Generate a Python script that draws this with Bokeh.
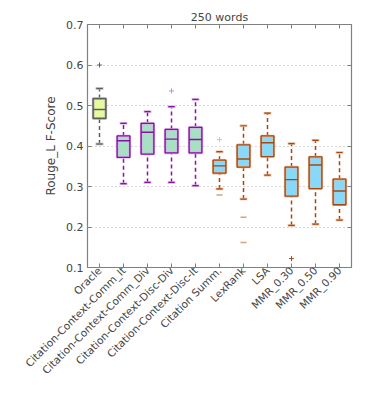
import math
from bokeh.plotting import figure
from bokeh.models import FactorRange, Range1d, LinearAxis, CategoricalAxis, FixedTicker, ColumnDataSource
from bokeh.transform import dodge
from bokeh.embed import file_html
from bokeh.resources import INLINE

cats = ["Oracle", "Citation-Context-Comm_It", "Citation-Context-Comm_Div",
        "Citation-Context-Disc-Div", "Citation-Context-Disc-It", "Citation Summ.",
        "LexRank", "LSA", "MMR_0.30", "MMR_0.50", "MMR_0.90"]
whisker_lo = [0.405, 0.307, 0.310, 0.310, 0.302, 0.294, 0.269, 0.328, 0.204, 0.207, 0.217]
q1 = [0.468, 0.372, 0.380, 0.383, 0.383, 0.333, 0.348, 0.374, 0.276, 0.295, 0.255]
median = [0.490, 0.413, 0.434, 0.417, 0.416, 0.351, 0.368, 0.408, 0.317, 0.353, 0.289]
q3 = [0.517, 0.425, 0.456, 0.441, 0.446, 0.365, 0.403, 0.425, 0.348, 0.373, 0.318]
whisker_hi = [0.542, 0.456, 0.485, 0.497, 0.515, 0.386, 0.450, 0.481, 0.406, 0.414, 0.384]

out_cross_cat = ["Oracle", "Citation-Context-Disc-Div", "Citation Summ.", "MMR_0.30"]
out_cross_val = [0.600, 0.536, 0.416, 0.122]
out_dash_cat = ["Citation Summ.", "LexRank", "LexRank"]
out_dash_val = [0.279, 0.224, 0.162]

y_ticks = [0.1, 0.2, 0.3, 0.4, 0.5, 0.6, 0.7]
title_text = "250 words"
y_label = "Rouge_L F-Score"

# styles
group = ["o", "g", "g", "g", "g", "b", "b", "b", "b", "b", "b"]
fill_map = {"o": "#e6fb9f", "g": "#a8e0c6", "b": "#86d9fb"}
edge_map = {"o": "#5e5e5e", "g": "#8a10a8", "b": "#a8460e"}
soft_map = {"o": "#a8a8a8", "g": "#d6a8e3", "b": "#e4b899"}
fills = [fill_map[g] for g in group]
edges = [edge_map[g] for g in group]
softs = [soft_map[g] for g in group]

src = ColumnDataSource(dict(cats=cats, lo=whisker_lo, q1=q1, med=median, q3=q3, hi=whisker_hi,
                            fill=fills, edge=edges, soft=softs))

FONT = "DejaVu Sans"
p = figure(width=357, height=389, x_range=FactorRange(*cats), y_range=Range1d(0.1, 0.7),
           output_backend="svg", toolbar_location=None, title=title_text,
           min_border_left=87, min_border_right=6, min_border_top=24, min_border_bottom=122)
p.title.align = "center"
p.title.text_font = FONT
p.title.text_font_size = "11px"
p.title.text_font_style = "normal"
p.title.standoff = 1
p.title.offset = 0

p.outline_line_color = "#808080"
p.outline_line_width = 1.2
p.xgrid.grid_line_color = None
p.ygrid.grid_line_color = "#b0b0b0"
p.ygrid.grid_line_dash = "1 3"
p.ygrid.ticker = FixedTicker(ticks=y_ticks)

# axes
for ax in p.yaxis:
    ax.ticker = FixedTicker(ticks=y_ticks)
    ax.axis_label = y_label
    ax.axis_label_text_font = FONT
    ax.axis_label_text_font_size = "12px"
    ax.axis_label_text_font_style = "normal"
    ax.major_label_text_font = FONT
    ax.major_label_text_font_size = "11px"
    ax.major_tick_in = 4
    ax.major_tick_out = 0
    ax.minor_tick_line_color = None
    ax.axis_line_color = None
    ax.major_tick_line_color = "#808080"
    ax.major_label_standoff = 4
    ax.axis_label_standoff = 5
for ax in p.xaxis:
    ax.major_label_orientation = math.pi / 4
    ax.major_label_text_font = FONT
    ax.major_label_text_font_size = "10.5px"
    ax.major_tick_in = 4
    ax.major_tick_out = 0
    ax.axis_line_color = None
    ax.major_tick_line_color = "#808080"
    ax.major_label_standoff = 1

ax_r = LinearAxis(ticker=FixedTicker(ticks=y_ticks), major_label_text_font_size="0px",
                  major_label_text_color=None,
                  major_tick_in=4, major_tick_out=0, minor_tick_line_color=None,
                  axis_line_color=None, major_tick_line_color="#808080", major_label_standoff=0)
p.add_layout(ax_r, "right")
ax_t = CategoricalAxis(major_label_text_font_size="0px", major_label_text_color=None,
                       major_tick_in=4, major_tick_out=0,
                       axis_line_color=None, major_tick_line_color="#808080", major_label_standoff=0)
p.add_layout(ax_t, "above")

W = 0.53
C = 0.16
# whiskers
p.segment(x0="cats", y0="q3", x1="cats", y1="hi", source=src, line_color="edge", line_width=1.5, line_dash="4 3")
p.segment(x0="cats", y0="lo", x1="cats", y1="q1", source=src, line_color="edge", line_width=1.5, line_dash="4 3")
# caps
p.segment(x0=dodge("cats", -C, range=p.x_range), y0="hi", x1=dodge("cats", C, range=p.x_range), y1="hi",
          source=src, line_color="soft", line_width=2.5)
p.segment(x0=dodge("cats", -C, range=p.x_range), y0="lo", x1=dodge("cats", C, range=p.x_range), y1="lo",
          source=src, line_color="soft", line_width=2.5)
p.segment(x0=dodge("cats", -C * 0.8, range=p.x_range), y0="hi", x1=dodge("cats", C * 0.8, range=p.x_range), y1="hi",
          source=src, line_color="edge", line_width=1.2)
p.segment(x0=dodge("cats", -C * 0.8, range=p.x_range), y0="lo", x1=dodge("cats", C * 0.8, range=p.x_range), y1="lo",
          source=src, line_color="edge", line_width=1.2)
# boxes
p.vbar(x="cats", bottom="q1", top="q3", width=W, source=src, fill_color="fill",
       line_color="soft", line_width=2.5)
p.vbar(x="cats", bottom="q1", top="q3", width=W, source=src, fill_alpha=0,
       line_color="edge", line_width=1.3)
# medians
p.segment(x0=dodge("cats", -W / 2, range=p.x_range), y0="med", x1=dodge("cats", W / 2, range=p.x_range), y1="med",
          source=src, line_color="edge", line_width=1.4)

# outliers
cross_colors = ["#606060", "#c78ad8", "#c8c8c8", "#a8460e"]
dash_colors = ["#d9a07a", "#d9a07a", "#d9a07a"]
p.scatter(x=out_cross_cat, y=out_cross_val, marker="cross", size=5, line_color=cross_colors, line_width=1)
p.scatter(x=out_dash_cat, y=out_dash_val, marker="dash", size=6, line_color=dash_colors, line_width=1.5)

open("out.html", "w").write(file_html(p, INLINE))
